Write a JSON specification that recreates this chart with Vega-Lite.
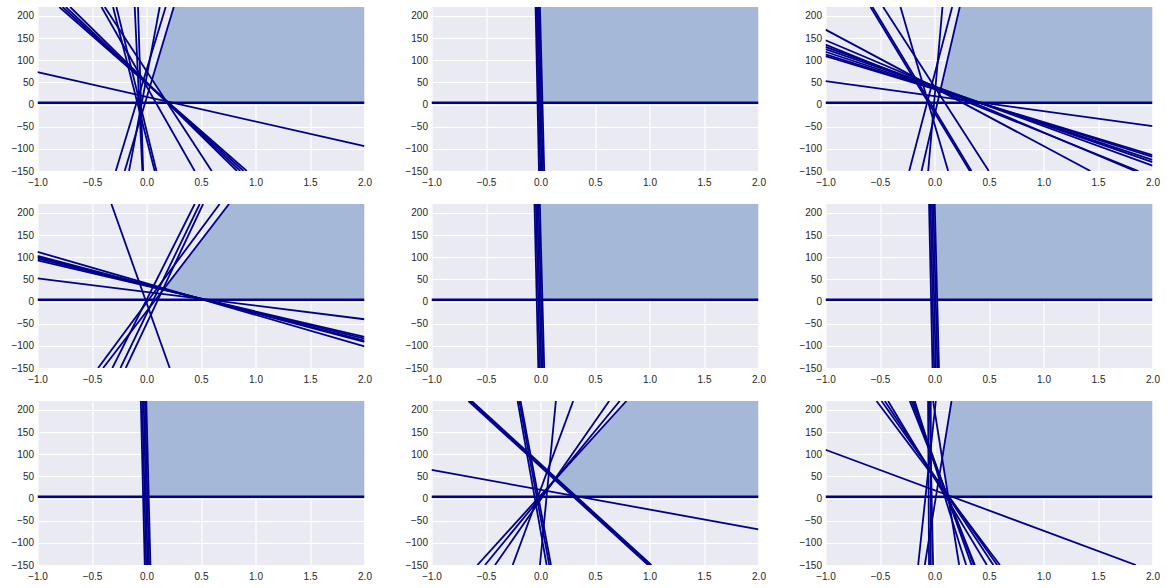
{
"$schema": "https://vega.github.io/schema/vega-lite/v6.json",
"padding": {"left": 10.5, "top": 7, "right": 5, "bottom": 5},
"background": "white",
"bounds": "flush",
"data": {"values": [
{"p":1,"k":"l","x":-0.80,"y":220,"x2":0.92,"y2":-150},
{"p":1,"k":"l","x":-0.77,"y":220,"x2":0.89,"y2":-150},
{"p":1,"k":"l","x":-0.74,"y":220,"x2":0.86,"y2":-150},
{"p":1,"k":"l","x":-0.70,"y":220,"x2":0.83,"y2":-150},
{"p":1,"k":"l","x":-0.413,"y":220,"x2":0.442,"y2":-150},
{"p":1,"k":"l","x":-0.383,"y":220,"x2":0.598,"y2":-150},
{"p":1,"k":"l","x":-0.307,"y":220,"x2":0.075,"y2":-150},
{"p":1,"k":"l","x":-0.276,"y":220,"x2":0.091,"y2":-150},
{"p":1,"k":"l","x":-0.108,"y":220,"x2":-0.038,"y2":-150},
{"p":1,"k":"l","x":-0.078,"y":220,"x2":-0.031,"y2":-150},
{"p":1,"k":"l","x":-0.282,"y":-150,"x2":0.176,"y2":220},
{"p":1,"k":"l","x":-0.2,"y":-150,"x2":0.25,"y2":220},
{"p":1,"k":"l","x":-0.16,"y":-150,"x2":0.121,"y2":220},
{"p":1,"k":"l","x":-1,"y":73,"x2":2,"y2":-94},
{"p":1,"k":"r","x":0.051,"y":56.4,"y2":56.4},
{"p":1,"k":"r","x":0.19,"y":170.3,"y2":4},
{"p":1,"k":"r","x":0.25,"y":220,"y2":4},
{"p":1,"k":"r","x":2,"y":220,"y2":4},
{"p":2,"k":"l","x":-0.045,"y":220,"x2":-0.014,"y2":-150},
{"p":2,"k":"l","x":-0.035,"y":220,"x2":-0.002,"y2":-150},
{"p":2,"k":"l","x":-0.025,"y":220,"x2":0.010,"y2":-150},
{"p":2,"k":"l","x":-0.015,"y":220,"x2":0.022,"y2":-150},
{"p":2,"k":"l","x":-0.005,"y":220,"x2":0.034,"y2":-150},
{"p":2,"k":"r","x":-0.005,"y":220,"y2":220},
{"p":2,"k":"r","x":0.018,"y":220,"y2":4},
{"p":2,"k":"r","x":2,"y":220,"y2":4},
{"p":3,"k":"l","x":-1,"y":53,"x2":2,"y2":-49},
{"p":3,"k":"l","x":-1,"y":169,"x2":1.43,"y2":-150},
{"p":3,"k":"l","x":-1,"y":145,"x2":1.84,"y2":-150},
{"p":3,"k":"l","x":-1,"y":135,"x2":1.87,"y2":-150},
{"p":3,"k":"l","x":-1,"y":130,"x2":2,"y2":-138},
{"p":3,"k":"l","x":-1,"y":125,"x2":2,"y2":-130},
{"p":3,"k":"l","x":-1,"y":119,"x2":2,"y2":-125},
{"p":3,"k":"l","x":-1,"y":113,"x2":2,"y2":-118},
{"p":3,"k":"l","x":-1,"y":109,"x2":2,"y2":-114},
{"p":3,"k":"l","x":-0.587,"y":220,"x2":0.324,"y2":-150},
{"p":3,"k":"l","x":-0.569,"y":220,"x2":0.339,"y2":-150},
{"p":3,"k":"l","x":-0.471,"y":220,"x2":0.498,"y2":-150},
{"p":3,"k":"l","x":-0.312,"y":220,"x2":0.125,"y2":-150},
{"p":3,"k":"l","x":-0.232,"y":-150,"x2":0.162,"y2":220},
{"p":3,"k":"l","x":-0.119,"y":-150,"x2":0.232,"y2":220},
{"p":3,"k":"l","x":-0.058,"y":-150,"x2":0.073,"y2":220},
{"p":3,"k":"r","x":0.057,"y":35.5,"y2":35.5},
{"p":3,"k":"r","x":0.2,"y":186.3,"y2":23},
{"p":3,"k":"r","x":0.232,"y":220,"y2":20.3},
{"p":3,"k":"r","x":0.3,"y":220,"y2":14.5},
{"p":3,"k":"r","x":0.42,"y":220,"y2":4},
{"p":3,"k":"r","x":2,"y":220,"y2":4},
{"p":4,"k":"l","x":-1,"y":52,"x2":2,"y2":-40},
{"p":4,"k":"l","x":-1,"y":112,"x2":2,"y2":-101},
{"p":4,"k":"l","x":-1,"y":103,"x2":2,"y2":-91},
{"p":4,"k":"l","x":-1,"y":100,"x2":2,"y2":-88},
{"p":4,"k":"l","x":-1,"y":97,"x2":2,"y2":-84},
{"p":4,"k":"l","x":-1,"y":93,"x2":2,"y2":-80},
{"p":4,"k":"l","x":-0.322,"y":220,"x2":0.213,"y2":-150},
{"p":4,"k":"l","x":-0.444,"y":-150,"x2":0.671,"y2":220},
{"p":4,"k":"l","x":-0.398,"y":-150,"x2":0.757,"y2":220},
{"p":4,"k":"l","x":-0.313,"y":-150,"x2":0.442,"y2":220},
{"p":4,"k":"l","x":-0.239,"y":-150,"x2":0.488,"y2":220},
{"p":4,"k":"l","x":-0.19,"y":-150,"x2":0.519,"y2":220},
{"p":4,"k":"r","x":0.163,"y":29.4,"y2":29.4},
{"p":4,"k":"r","x":0.521,"y":144.4,"y2":4},
{"p":4,"k":"r","x":0.757,"y":220,"y2":4},
{"p":4,"k":"r","x":2,"y":220,"y2":4},
{"p":5,"k":"l","x":-0.055,"y":220,"x2":-0.020,"y2":-150},
{"p":5,"k":"l","x":-0.042,"y":220,"x2":-0.006,"y2":-150},
{"p":5,"k":"l","x":-0.030,"y":220,"x2":0.008,"y2":-150},
{"p":5,"k":"l","x":-0.018,"y":220,"x2":0.021,"y2":-150},
{"p":5,"k":"l","x":-0.006,"y":220,"x2":0.034,"y2":-150},
{"p":5,"k":"r","x":-0.006,"y":220,"y2":220},
{"p":5,"k":"r","x":0.0174,"y":220,"y2":4},
{"p":5,"k":"r","x":2,"y":220,"y2":4},
{"p":6,"k":"l","x":-0.050,"y":220,"x2":-0.018,"y2":-150},
{"p":6,"k":"l","x":-0.037,"y":220,"x2":-0.003,"y2":-150},
{"p":6,"k":"l","x":-0.024,"y":220,"x2":0.012,"y2":-150},
{"p":6,"k":"l","x":-0.011,"y":220,"x2":0.027,"y2":-150},
{"p":6,"k":"l","x":0.002,"y":220,"x2":0.041,"y2":-150},
{"p":6,"k":"r","x":0.002,"y":220,"y2":220},
{"p":6,"k":"r","x":0.0248,"y":220,"y2":4},
{"p":6,"k":"r","x":2,"y":220,"y2":4},
{"p":7,"k":"l","x":-0.052,"y":220,"x2":-0.016,"y2":-150},
{"p":7,"k":"l","x":-0.039,"y":220,"x2":-0.003,"y2":-150},
{"p":7,"k":"l","x":-0.026,"y":220,"x2":0.010,"y2":-150},
{"p":7,"k":"l","x":-0.014,"y":220,"x2":0.023,"y2":-150},
{"p":7,"k":"l","x":-0.002,"y":220,"x2":0.036,"y2":-150},
{"p":7,"k":"r","x":-0.002,"y":220,"y2":220},
{"p":7,"k":"r","x":0.0202,"y":220,"y2":4},
{"p":7,"k":"r","x":2,"y":220,"y2":4},
{"p":8,"k":"l","x":-1,"y":64.5,"x2":2,"y2":-69.5},
{"p":8,"k":"l","x":-0.661,"y":220,"x2":0.987,"y2":-150},
{"p":8,"k":"l","x":-0.651,"y":220,"x2":0.997,"y2":-150},
{"p":8,"k":"l","x":-0.641,"y":220,"x2":1.007,"y2":-150},
{"p":8,"k":"l","x":-0.631,"y":220,"x2":1.017,"y2":-150},
{"p":8,"k":"l","x":-0.21,"y":220,"x2":0.056,"y2":-150},
{"p":8,"k":"l","x":-0.195,"y":220,"x2":0.08,"y2":-150},
{"p":8,"k":"l","x":-0.183,"y":220,"x2":0.096,"y2":-150},
{"p":8,"k":"l","x":-0.005,"y":-150,"x2":0.141,"y2":220},
{"p":8,"k":"l","x":-0.255,"y":-150,"x2":0.300,"y2":220},
{"p":8,"k":"l","x":-0.579,"y":-150,"x2":0.788,"y2":220},
{"p":8,"k":"l","x":-0.509,"y":-150,"x2":0.727,"y2":220},
{"p":8,"k":"l","x":-0.417,"y":-150,"x2":0.630,"y2":220},
{"p":8,"k":"r","x":0.1446,"y":45.9,"y2":45.9},
{"p":8,"k":"r","x":0.331,"y":96.3,"y2":4},
{"p":8,"k":"r","x":0.788,"y":220,"y2":4},
{"p":8,"k":"r","x":2,"y":220,"y2":4},
{"p":9,"k":"l","x":-1,"y":110,"x2":1.847,"y2":-150},
{"p":9,"k":"l","x":-0.532,"y":220,"x2":0.60,"y2":-150},
{"p":9,"k":"l","x":-0.486,"y":220,"x2":0.575,"y2":-150},
{"p":9,"k":"l","x":-0.456,"y":220,"x2":0.54,"y2":-150},
{"p":9,"k":"l","x":-0.426,"y":220,"x2":0.48,"y2":-150},
{"p":9,"k":"l","x":-0.227,"y":220,"x2":0.37,"y2":-150},
{"p":9,"k":"l","x":-0.211,"y":220,"x2":0.36,"y2":-150},
{"p":9,"k":"l","x":-0.196,"y":220,"x2":0.34,"y2":-150},
{"p":9,"k":"l","x":-0.181,"y":220,"x2":0.29,"y2":-150},
{"p":9,"k":"l","x":-0.013,"y":220,"x2":0.226,"y2":-150},
{"p":9,"k":"l","x":-0.089,"y":-150,"x2":0.156,"y2":220},
{"p":9,"k":"l","x":-0.150,"y":-150,"x2":0.012,"y2":220},
{"p":9,"k":"l","x":-0.059,"y":220,"x2":-0.050,"y2":-150},
{"p":9,"k":"l","x":-0.034,"y":220,"x2":-0.034,"y2":-150},
{"p":9,"k":"l","x":-0.045,"y":220,"x2":-0.013,"y2":-150},
{"p":9,"k":"r","x":0.0705,"y":90.8,"y2":90.8},
{"p":9,"k":"r","x":0.126,"y":174.7,"y2":4},
{"p":9,"k":"r","x":0.156,"y":220,"y2":4},
{"p":9,"k":"r","x":2,"y":220,"y2":4},
{"p":1,"k":"h","x":-1,"y":4,"x2":2,"y2":4},
{"p":2,"k":"h","x":-1,"y":4,"x2":2,"y2":4},
{"p":3,"k":"h","x":-1,"y":4,"x2":2,"y2":4},
{"p":4,"k":"h","x":-1,"y":4,"x2":2,"y2":4},
{"p":5,"k":"h","x":-1,"y":4,"x2":2,"y2":4},
{"p":6,"k":"h","x":-1,"y":4,"x2":2,"y2":4},
{"p":7,"k":"h","x":-1,"y":4,"x2":2,"y2":4},
{"p":8,"k":"h","x":-1,"y":4,"x2":2,"y2":4},
{"p":9,"k":"h","x":-1,"y":4,"x2":2,"y2":4}
]},
"columns": 3,
"spacing": {"row": 33, "column": 67},
"concat": [
{"width":327,"height":164,"transform":[{"filter":"datum.p == 1"}],
 "encoding":{"x":{"field":"x","type":"quantitative","scale":{"domain":[-1,2],"nice":false,"zero":false},"axis":{"title":null,"values":[-1,-0.5,0,0.5,1,1.5,2],"format":".1f","labelPadding":6,"labelFlush":false}},
  "y":{"field":"y","type":"quantitative","scale":{"domain":[-150,220],"nice":false,"zero":false},"axis":{"title":null,"values":[-150,-100,-50,0,50,100,150,200],"format":"d","labelPadding":4}}},
 "layer":[
  {"transform":[{"filter":"datum.k == 'r'"}],"mark":{"type":"area","color":"#a6b8d8","opacity":1,"clip":true},"encoding":{"y2":{"field":"y2"}}},
  {"transform":[{"filter":"datum.k == 'l'"}],"mark":{"type":"rule","color":"#00008b","strokeWidth":1.8,"clip":true},"encoding":{"x2":{"field":"x2"},"y2":{"field":"y2"}}},
  {"transform":[{"filter":"datum.k == 'h'"}],"mark":{"type":"rule","color":"#00008b","strokeWidth":2.4,"clip":true},"encoding":{"x2":{"field":"x2"},"y2":{"field":"y2"}}}]},
{"width":327,"height":164,"transform":[{"filter":"datum.p == 2"}],
 "encoding":{"x":{"field":"x","type":"quantitative","scale":{"domain":[-1,2],"nice":false,"zero":false},"axis":{"title":null,"values":[-1,-0.5,0,0.5,1,1.5,2],"format":".1f","labelPadding":6,"labelFlush":false}},
  "y":{"field":"y","type":"quantitative","scale":{"domain":[-150,220],"nice":false,"zero":false},"axis":{"title":null,"values":[-150,-100,-50,0,50,100,150,200],"format":"d","labelPadding":4}}},
 "layer":[
  {"transform":[{"filter":"datum.k == 'r'"}],"mark":{"type":"area","color":"#a6b8d8","opacity":1,"clip":true},"encoding":{"y2":{"field":"y2"}}},
  {"transform":[{"filter":"datum.k == 'l'"}],"mark":{"type":"rule","color":"#00008b","strokeWidth":1.8,"clip":true},"encoding":{"x2":{"field":"x2"},"y2":{"field":"y2"}}},
  {"transform":[{"filter":"datum.k == 'h'"}],"mark":{"type":"rule","color":"#00008b","strokeWidth":2.4,"clip":true},"encoding":{"x2":{"field":"x2"},"y2":{"field":"y2"}}}]},
{"width":327,"height":164,"transform":[{"filter":"datum.p == 3"}],
 "encoding":{"x":{"field":"x","type":"quantitative","scale":{"domain":[-1,2],"nice":false,"zero":false},"axis":{"title":null,"values":[-1,-0.5,0,0.5,1,1.5,2],"format":".1f","labelPadding":6,"labelFlush":false}},
  "y":{"field":"y","type":"quantitative","scale":{"domain":[-150,220],"nice":false,"zero":false},"axis":{"title":null,"values":[-150,-100,-50,0,50,100,150,200],"format":"d","labelPadding":4}}},
 "layer":[
  {"transform":[{"filter":"datum.k == 'r'"}],"mark":{"type":"area","color":"#a6b8d8","opacity":1,"clip":true},"encoding":{"y2":{"field":"y2"}}},
  {"transform":[{"filter":"datum.k == 'l'"}],"mark":{"type":"rule","color":"#00008b","strokeWidth":1.8,"clip":true},"encoding":{"x2":{"field":"x2"},"y2":{"field":"y2"}}},
  {"transform":[{"filter":"datum.k == 'h'"}],"mark":{"type":"rule","color":"#00008b","strokeWidth":2.4,"clip":true},"encoding":{"x2":{"field":"x2"},"y2":{"field":"y2"}}}]},
{"width":327,"height":164,"transform":[{"filter":"datum.p == 4"}],
 "encoding":{"x":{"field":"x","type":"quantitative","scale":{"domain":[-1,2],"nice":false,"zero":false},"axis":{"title":null,"values":[-1,-0.5,0,0.5,1,1.5,2],"format":".1f","labelPadding":6,"labelFlush":false}},
  "y":{"field":"y","type":"quantitative","scale":{"domain":[-150,220],"nice":false,"zero":false},"axis":{"title":null,"values":[-150,-100,-50,0,50,100,150,200],"format":"d","labelPadding":4}}},
 "layer":[
  {"transform":[{"filter":"datum.k == 'r'"}],"mark":{"type":"area","color":"#a6b8d8","opacity":1,"clip":true},"encoding":{"y2":{"field":"y2"}}},
  {"transform":[{"filter":"datum.k == 'l'"}],"mark":{"type":"rule","color":"#00008b","strokeWidth":1.8,"clip":true},"encoding":{"x2":{"field":"x2"},"y2":{"field":"y2"}}},
  {"transform":[{"filter":"datum.k == 'h'"}],"mark":{"type":"rule","color":"#00008b","strokeWidth":2.4,"clip":true},"encoding":{"x2":{"field":"x2"},"y2":{"field":"y2"}}}]},
{"width":327,"height":164,"transform":[{"filter":"datum.p == 5"}],
 "encoding":{"x":{"field":"x","type":"quantitative","scale":{"domain":[-1,2],"nice":false,"zero":false},"axis":{"title":null,"values":[-1,-0.5,0,0.5,1,1.5,2],"format":".1f","labelPadding":6,"labelFlush":false}},
  "y":{"field":"y","type":"quantitative","scale":{"domain":[-150,220],"nice":false,"zero":false},"axis":{"title":null,"values":[-150,-100,-50,0,50,100,150,200],"format":"d","labelPadding":4}}},
 "layer":[
  {"transform":[{"filter":"datum.k == 'r'"}],"mark":{"type":"area","color":"#a6b8d8","opacity":1,"clip":true},"encoding":{"y2":{"field":"y2"}}},
  {"transform":[{"filter":"datum.k == 'l'"}],"mark":{"type":"rule","color":"#00008b","strokeWidth":1.8,"clip":true},"encoding":{"x2":{"field":"x2"},"y2":{"field":"y2"}}},
  {"transform":[{"filter":"datum.k == 'h'"}],"mark":{"type":"rule","color":"#00008b","strokeWidth":2.4,"clip":true},"encoding":{"x2":{"field":"x2"},"y2":{"field":"y2"}}}]},
{"width":327,"height":164,"transform":[{"filter":"datum.p == 6"}],
 "encoding":{"x":{"field":"x","type":"quantitative","scale":{"domain":[-1,2],"nice":false,"zero":false},"axis":{"title":null,"values":[-1,-0.5,0,0.5,1,1.5,2],"format":".1f","labelPadding":6,"labelFlush":false}},
  "y":{"field":"y","type":"quantitative","scale":{"domain":[-150,220],"nice":false,"zero":false},"axis":{"title":null,"values":[-150,-100,-50,0,50,100,150,200],"format":"d","labelPadding":4}}},
 "layer":[
  {"transform":[{"filter":"datum.k == 'r'"}],"mark":{"type":"area","color":"#a6b8d8","opacity":1,"clip":true},"encoding":{"y2":{"field":"y2"}}},
  {"transform":[{"filter":"datum.k == 'l'"}],"mark":{"type":"rule","color":"#00008b","strokeWidth":1.8,"clip":true},"encoding":{"x2":{"field":"x2"},"y2":{"field":"y2"}}},
  {"transform":[{"filter":"datum.k == 'h'"}],"mark":{"type":"rule","color":"#00008b","strokeWidth":2.4,"clip":true},"encoding":{"x2":{"field":"x2"},"y2":{"field":"y2"}}}]},
{"width":327,"height":164,"transform":[{"filter":"datum.p == 7"}],
 "encoding":{"x":{"field":"x","type":"quantitative","scale":{"domain":[-1,2],"nice":false,"zero":false},"axis":{"title":null,"values":[-1,-0.5,0,0.5,1,1.5,2],"format":".1f","labelPadding":6,"labelFlush":false}},
  "y":{"field":"y","type":"quantitative","scale":{"domain":[-150,220],"nice":false,"zero":false},"axis":{"title":null,"values":[-150,-100,-50,0,50,100,150,200],"format":"d","labelPadding":4}}},
 "layer":[
  {"transform":[{"filter":"datum.k == 'r'"}],"mark":{"type":"area","color":"#a6b8d8","opacity":1,"clip":true},"encoding":{"y2":{"field":"y2"}}},
  {"transform":[{"filter":"datum.k == 'l'"}],"mark":{"type":"rule","color":"#00008b","strokeWidth":1.8,"clip":true},"encoding":{"x2":{"field":"x2"},"y2":{"field":"y2"}}},
  {"transform":[{"filter":"datum.k == 'h'"}],"mark":{"type":"rule","color":"#00008b","strokeWidth":2.4,"clip":true},"encoding":{"x2":{"field":"x2"},"y2":{"field":"y2"}}}]},
{"width":327,"height":164,"transform":[{"filter":"datum.p == 8"}],
 "encoding":{"x":{"field":"x","type":"quantitative","scale":{"domain":[-1,2],"nice":false,"zero":false},"axis":{"title":null,"values":[-1,-0.5,0,0.5,1,1.5,2],"format":".1f","labelPadding":6,"labelFlush":false}},
  "y":{"field":"y","type":"quantitative","scale":{"domain":[-150,220],"nice":false,"zero":false},"axis":{"title":null,"values":[-150,-100,-50,0,50,100,150,200],"format":"d","labelPadding":4}}},
 "layer":[
  {"transform":[{"filter":"datum.k == 'r'"}],"mark":{"type":"area","color":"#a6b8d8","opacity":1,"clip":true},"encoding":{"y2":{"field":"y2"}}},
  {"transform":[{"filter":"datum.k == 'l'"}],"mark":{"type":"rule","color":"#00008b","strokeWidth":1.8,"clip":true},"encoding":{"x2":{"field":"x2"},"y2":{"field":"y2"}}},
  {"transform":[{"filter":"datum.k == 'h'"}],"mark":{"type":"rule","color":"#00008b","strokeWidth":2.4,"clip":true},"encoding":{"x2":{"field":"x2"},"y2":{"field":"y2"}}}]},
{"width":327,"height":164,"transform":[{"filter":"datum.p == 9"}],
 "encoding":{"x":{"field":"x","type":"quantitative","scale":{"domain":[-1,2],"nice":false,"zero":false},"axis":{"title":null,"values":[-1,-0.5,0,0.5,1,1.5,2],"format":".1f","labelPadding":6,"labelFlush":false}},
  "y":{"field":"y","type":"quantitative","scale":{"domain":[-150,220],"nice":false,"zero":false},"axis":{"title":null,"values":[-150,-100,-50,0,50,100,150,200],"format":"d","labelPadding":4}}},
 "layer":[
  {"transform":[{"filter":"datum.k == 'r'"}],"mark":{"type":"area","color":"#a6b8d8","opacity":1,"clip":true},"encoding":{"y2":{"field":"y2"}}},
  {"transform":[{"filter":"datum.k == 'l'"}],"mark":{"type":"rule","color":"#00008b","strokeWidth":1.8,"clip":true},"encoding":{"x2":{"field":"x2"},"y2":{"field":"y2"}}},
  {"transform":[{"filter":"datum.k == 'h'"}],"mark":{"type":"rule","color":"#00008b","strokeWidth":2.4,"clip":true},"encoding":{"x2":{"field":"x2"},"y2":{"field":"y2"}}}]}
],
"config": {
  "view": {"fill": "#eaeaf2", "stroke": null},
  "axis": {"domain": false, "ticks": false, "grid": true, "gridColor": "#ffffff", "gridWidth": 1.2,
    "labelFont": "Liberation Sans", "labelFontSize": 10, "labelColor": "#262626"}
}
}
